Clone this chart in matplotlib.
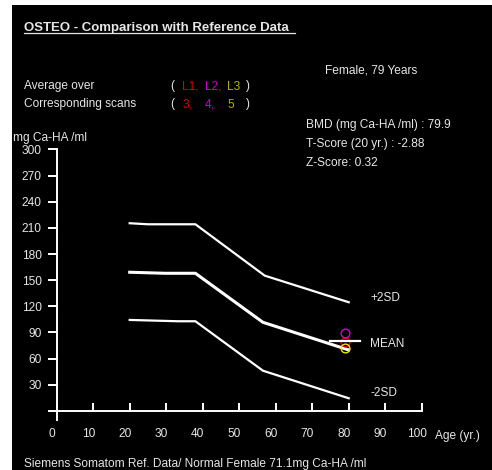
import numpy as np
import matplotlib
matplotlib.use("Agg")
import matplotlib.pyplot as plt
from matplotlib.patches import Rectangle
from matplotlib.lines import Line2D
from matplotlib.transforms import ScaledTranslation

# reference curves (age, BMD)
ages_p2sd = [20, 25, 38, 57, 80]
bmd_p2sd = [215.3, 214.1, 214.1, 155.2, 124.7]
ages_mean = [20, 29.7, 38, 56.5, 80]
bmd_mean = [159.1, 157.9, 157.9, 101.7, 70.0]
ages_m2sd = [20, 33.2, 38, 56.5, 80]
bmd_m2sd = [104.4, 102.9, 102.9, 46.2, 14.6]

# patient
patient_age = 79
patient_bmd = 79.9
marker_span = [75, 83]
scan_names = ["L1", "L2", "L3"]
scan_nums = ["3", "4", "5"]
scan_bmd = [78.7, 89.1, 71.9]
scan_colors = ["#e00000", "#d000d0", "#e6e600"]
text_colors = ["#e00000", "#cc00cc", "#b4b400"]

x_ticks = list(range(0, 101, 10))
y_ticks = list(range(0, 301, 30))

W, H = 492, 470
TXT = "#e6e6e6"
FONT = "Liberation Sans"
FS = 8.6

fig = plt.figure(figsize=(W / 100, H / 100), dpi=100)
fig.patch.set_facecolor("white")
fig.patches.append(Rectangle((12 / W, 0), 1, (H - 5) / H, transform=fig.transFigure,
                             facecolor="black", edgecolor="none", zorder=-10))


def put(x, y, s, color=TXT, **kw):
    fig.text(x / W, 1 - y / H, s, color=color, fontsize=kw.pop("fontsize", FS),
             family=FONT, va="center_baseline", ha=kw.pop("ha", "left"), **kw)


# header texts
put(24, 26, "OSTEO - Comparison with Reference Data ", fontweight="bold", fontsize=9.5)
fig.add_artist(Line2D([24 / W, 295 / W], [1 - 33 / H, 1 - 33 / H], color=TXT, lw=0.9))
put(325, 69, "Female, 79 Years")
put(24, 85, "Average over")
put(24, 103, "Corresponding scans")
put(170, 85, "(")
put(170, 103, "(")
put(246, 85, ")")
put(246, 103, ")")
for i, xp in enumerate([182, 204.5, 227]):
    put(xp, 85, scan_names[i] + ("," if i < 2 else ""), color=text_colors[i])
    put(xp + 0.5, 103, scan_nums[i] + ("," if i < 2 else ""), color=text_colors[i])
put(306, 124, "BMD (mg Ca-HA /ml) : %.1f" % patient_bmd)
put(306, 143, "T-Score (20 yr.) : -2.88")
put(306, 162, "Z-Score: 0.32")
put(13, 136, "mg Ca-HA /ml")
put(24, 462, "Siemens Somatom Ref. Data/ Normal Female 71.1mg Ca-HA /ml")
put(435, 434, "Age (yr.)")

# axes: x 0..100 -> px 56.7..421.7, y 0..300 -> px 411..149.4
ax = fig.add_axes([45.75 / W, 0.1033, 375.95 / W, 0.5789])
ax.set_facecolor("none")
ax.set_xlim(-3, 100)
ax.set_ylim(-12, 300)
for s in ["top", "right"]:
    ax.spines[s].set_visible(False)
ax.spines["left"].set_position(("data", 0))
ax.spines["bottom"].set_position(("data", 0))
ax.spines["left"].set_bounds(-10.5, 300)
ax.spines["bottom"].set_bounds(0, 100)
for s in ["left", "bottom"]:
    ax.spines[s].set_color("white")
    ax.spines[s].set_linewidth(1.4)

ax.set_yticks(y_ticks)
ax.set_yticklabels([""] + [str(v) for v in y_ticks[1:]])
ax.set_xticks(x_ticks)
ax.set_xticklabels([str(v) for v in x_ticks])
ax.tick_params(axis="y", direction="out", length=6.5, width=1.4, color="white",
               labelcolor=TXT, labelsize=FS, pad=4.3)
ax.tick_params(axis="x", direction="in", length=5.8, width=1.4, color="white",
               labelcolor=TXT, labelsize=FS, pad=12.5)
for lab in ax.get_xticklabels() + ax.get_yticklabels():
    lab.set_family(FONT)
off = ScaledTranslation(-5 / 100, 0, fig.dpi_scale_trans)
for lab in ax.get_xticklabels():
    lab.set_transform(lab.get_transform() + off)

# curves
ax.plot(ages_p2sd, bmd_p2sd, color="white", lw=1.6, solid_joinstyle="round", clip_on=False)
ax.plot(ages_mean, bmd_mean, color="white", lw=2.2, solid_joinstyle="round", clip_on=False)
ax.plot(ages_m2sd, bmd_m2sd, color="white", lw=1.6, solid_joinstyle="round", clip_on=False)

ax.text(ages_p2sd[-1] + 5.9, bmd_p2sd[-1] + 7, "+2SD", color=TXT, fontsize=FS,
        family=FONT, va="center_baseline")
ax.text(ages_mean[-1] + 5.9, patient_bmd - 1.2, "MEAN", color=TXT, fontsize=FS,
        family=FONT, va="center_baseline")
ax.text(ages_m2sd[-1] + 5.9, bmd_m2sd[-1] + 8, "-2SD", color=TXT, fontsize=FS,
        family=FONT, va="center_baseline")

# scans
for v, c in zip(scan_bmd, scan_colors):
    ax.plot([patient_age], [v], "o", ms=6.3, mfc="none", mec=c, mew=1.0, zorder=4)
ax.plot(marker_span, [patient_bmd, patient_bmd], color="white", lw=1.6, zorder=5)

fig.savefig("out.png", dpi=100, facecolor=fig.get_facecolor())
